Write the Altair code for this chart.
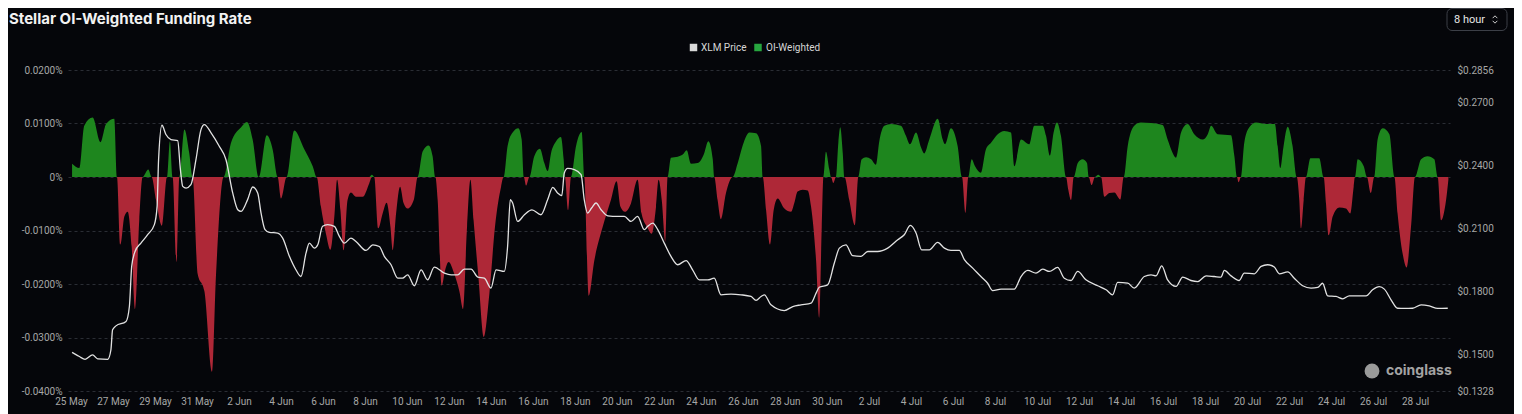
import altair as alt
import pandas as pd

# ---------------- text ----------------
title_text = "Stellar OI-Weighted Funding Rate"
button_text = "8 hour"
watermark_text = "coinglass"
series_names = ["XLM Price", "OI-Weighted"]
start_date = "2024-05-25"

# ---------------- funding rate (OI-weighted, %), day offsets from 25 May ----------------
fr_day = [0.05, 0.40, 0.63, 1.03, 1.40, 1.67, 2.06, 2.19, 2.35, 2.54, 2.70, 2.89, 3.05, 3.25, 3.41,
          3.68, 3.84, 4.05, 4.33, 4.57, 4.71, 4.84, 5.03, 5.16, 5.40, 5.63, 5.79, 6.03, 6.35, 6.71,
          6.90, 7.27, 7.62, 8.10, 8.38, 8.65, 8.94, 9.32, 9.60, 9.84, 10.00, 10.27, 10.63, 11.11,
          11.51, 11.70, 11.90, 12.14, 12.35, 12.54, 12.67, 12.83, 12.98, 13.17, 13.33, 13.57, 13.89,
          14.21, 14.33, 14.44, 14.63, 14.84, 15.03, 15.21, 15.32, 15.48, 15.67, 15.84, 16.03, 16.32,
          16.51, 16.75, 17.03, 17.22, 17.35, 17.46, 17.65, 17.81, 17.98, 18.25, 18.49, 18.67, 18.86,
          19.02, 19.17, 19.40, 19.65, 19.92, 20.19, 20.48, 20.60, 20.79, 21.03, 21.30, 21.46, 21.56,
          21.67, 21.83, 22.06, 22.33, 22.54, 22.70, 22.86, 23.10, 23.33, 23.46, 23.52, 23.67, 23.81,
          24.05, 24.32, 24.44, 24.65, 24.92, 25.32, 25.71, 25.98, 26.16, 26.38, 26.67, 26.98, 27.17,
          27.43, 27.65, 27.86, 27.98, 28.13, 28.30, 28.41, 28.57, 28.89, 29.13, 29.32, 29.52, 29.84,
          30.13, 30.35, 30.56, 30.63, 30.79, 30.95, 31.19, 31.51, 31.75, 32.03, 32.30, 32.62, 32.86,
          32.94, 33.10, 33.29, 33.46, 33.65, 33.97, 34.29, 34.44, 34.60, 34.84, 35.08, 35.24, 35.48,
          35.63, 35.75, 35.83, 35.95, 36.11, 36.19, 36.30, 36.43, 36.54, 36.63, 36.75, 36.83, 37.06,
          37.33, 37.49, 37.65, 37.86, 38.10, 38.33, 38.49, 38.73, 39.05, 39.52, 39.76, 39.95, 40.24,
          40.48, 40.63, 40.87, 41.27, 41.51, 41.62, 41.90, 42.22, 42.43, 42.59, 42.73, 42.89, 43.05,
          43.33, 43.57, 43.81, 44.13, 44.44, 44.76, 44.92, 45.24, 45.63, 45.87, 46.27, 46.43, 46.62,
          46.79, 46.95, 47.14, 47.38, 47.49, 47.62, 47.75, 47.94, 48.17, 48.38, 48.46, 48.60, 48.76,
          48.92, 49.05, 49.21, 49.44, 49.68, 49.97, 50.13, 50.32, 50.63, 50.95, 51.43, 51.98, 52.22,
          52.46, 52.62, 52.86, 53.17, 53.49, 53.89, 54.13, 54.29, 54.60, 55.24, 55.40, 55.52, 55.60,
          55.71, 55.87, 56.11, 56.43, 56.90, 57.33, 57.46, 57.59, 57.70, 57.94, 58.17, 58.37, 58.49,
          58.57, 58.70, 58.81, 59.02, 59.44, 59.65, 59.76, 59.89, 60.08, 60.40, 60.71, 60.92, 61.08,
          61.14, 61.27, 61.56, 61.71, 61.90, 62.06, 62.22, 62.46, 62.78, 63.02, 63.17, 63.41, 63.60,
          63.81, 64.00, 64.29, 64.60, 64.92, 65.08, 65.24, 65.48, 65.59]
fr_val = [0.0025, 0.0017, 0.0096, 0.0111, 0.0065, 0.0099, 0.0109, 0.0, -0.0126, -0.0074, -0.0065,
          -0.0131, -0.0247, -0.0081, 0.0, 0.0014, 0.0, -0.0043, -0.0091, 0.0, 0.0067, 0.0, -0.0159,
          0.0, 0.0089, 0.0045, 0.0, -0.0181, -0.0213, -0.0364, -0.0187, 0.0, 0.0064, 0.0093, 0.0103,
          0.0070, 0.0, 0.0078, 0.0052, 0.0, -0.0040, 0.0, 0.0087, 0.0052, 0.0020, 0.0, -0.0055,
          -0.0106, -0.0136, -0.0074, -0.0005, -0.0062, -0.0137, -0.0043, -0.0029, -0.0037, -0.0037,
          -0.0011, 0.0004, 0.0, -0.0096, -0.0068, -0.0048, -0.0093, -0.0137, -0.0068, -0.0018,
          -0.0049, -0.0059, -0.0043, 0.0, 0.0048, 0.0059, 0.0039, 0.0, -0.0043, -0.0203, -0.0175,
          -0.0159, -0.0181, -0.0213, -0.0247, -0.0093, -0.0005, -0.0081, -0.0187, -0.0299, -0.0219,
          -0.0093, -0.0018, 0.0, 0.0058, 0.0083, 0.0091, 0.0070, 0.0, -0.0016, 0.0, 0.0039, 0.0053,
          0.0026, 0.0011, 0.0045, 0.0067, 0.0075, 0.0033, 0.0, -0.0062, 0.0, 0.0058, 0.0084, 0.0,
          -0.0222, -0.0156, -0.0093, -0.0043, -0.0008, -0.0055, -0.0065, -0.0049, -0.0005, -0.0068,
          -0.0093, -0.0106, -0.0055, -0.0005, -0.0043, -0.0121, 0.0, 0.0036, 0.0038, 0.0042, 0.0050,
          0.0025, 0.0026, 0.0042, 0.0067, 0.0033, 0.0, -0.0043, -0.0079, -0.0030, 0.0, 0.0026,
          0.0064, 0.0083, 0.0082, 0.0058, 0.0, -0.0062, -0.0126, -0.0062, -0.0040, -0.0059, -0.0065,
          -0.0049, -0.0027, -0.0024, -0.0025, -0.0055, -0.0156, -0.0263, -0.0093, 0.0, 0.0047,
          0.0014, 0.0, -0.0011, 0.0, 0.0064, 0.0093, 0.0045, 0.0, -0.0043, -0.0090, 0.0, 0.0033,
          0.0037, 0.0033, 0.0023, 0.0067, 0.0096, 0.0099, 0.0096, 0.0077, 0.0061, 0.0083, 0.0055,
          0.0044, 0.0070, 0.0109, 0.0070, 0.0061, 0.0091, 0.0058, 0.0, -0.0067, 0.0, 0.0033, 0.0020,
          0.0008, 0.0052, 0.0064, 0.0080, 0.0086, 0.0083, 0.0020, 0.0070, 0.0061, 0.0096, 0.0096,
          0.0077, 0.0040, 0.0083, 0.0102, 0.0077, 0.0, -0.0024, -0.0043, 0.0, 0.0026, 0.0033, 0.0026,
          0.0, -0.0015, 0.0, 0.0004, 0.0, -0.0037, -0.0030, -0.0029, -0.0042, 0.0, 0.0058, 0.0096,
          0.0102, 0.0101, 0.0097, 0.0070, 0.0045, 0.0036, 0.0083, 0.0099, 0.0080, 0.0070, 0.0080,
          0.0096, 0.0080, 0.0078, 0.0039, 0.0, -0.0010, 0.0, 0.0064, 0.0093, 0.0102, 0.0099, 0.0099,
          0.0058, 0.0017, 0.0045, 0.0094, 0.0058, 0.0, -0.0043, -0.0096, -0.0043, 0.0, 0.0035,
          0.0035, 0.0, -0.0049, -0.0109, -0.0074, -0.0057, -0.0059, -0.0068, -0.0018, 0.0, 0.0033,
          0.0020, 0.0, -0.0030, 0.0, 0.0070, 0.0091, 0.0080, 0.0, -0.0068, -0.0143, -0.0169,
          -0.0093, 0.0, 0.0033, 0.0039, 0.0033, 0.0, -0.0081, -0.0043, -0.0005]

# ---------------- XLM price (USD), day offsets from 25 May ----------------
px_day = [0.05, 0.40, 0.67, 1.03, 1.27, 1.75, 1.90, 1.98, 2.14, 2.62, 2.78, 2.89, 3.05, 3.33, 3.65,
          3.97, 4.10, 4.17, 4.33, 4.52, 4.76, 5.08, 5.21, 5.32, 5.48, 5.71, 5.95, 6.19, 6.35, 6.67,
          7.06, 7.38, 7.70, 7.94, 8.10, 8.41, 8.65, 8.89, 9.05, 9.24, 9.44, 9.84, 10.08, 10.40,
          10.71, 10.95, 11.19, 11.35, 11.59, 11.75, 11.98, 12.22, 12.54, 12.78, 13.02, 13.33, 13.57,
          14.05, 14.37, 14.68, 14.92, 15.24, 15.56, 15.79, 16.03, 16.35, 16.67, 16.98, 17.30, 17.78,
          18.10, 18.41, 18.73, 19.05, 19.37, 19.68, 20.00, 20.24, 20.63, 20.79, 20.92, 21.03, 21.27,
          21.59, 21.95, 22.38, 22.70, 22.94, 23.17, 23.37, 23.49, 23.65, 23.97, 24.29, 24.44, 24.60,
          24.79, 25.00, 25.24, 25.56, 26.03, 26.35, 26.67, 26.98, 27.30, 27.46, 27.70, 27.94, 28.25,
          28.57, 28.89, 29.29, 29.60, 29.92, 30.32, 30.63, 30.95, 31.43, 31.90, 32.38, 32.62, 32.86,
          33.02, 33.33, 33.97, 34.37, 34.76, 35.24, 35.48, 35.63, 36.03, 36.35, 36.59, 36.90, 37.22,
          37.62, 37.94, 38.41, 38.89, 39.37, 39.68, 39.97, 40.24, 40.51, 40.87, 41.27, 41.59, 41.90,
          42.30, 42.54, 42.94, 43.33, 43.65, 43.89, 44.29, 44.92, 45.24, 45.56, 45.95, 46.27, 46.59,
          46.98, 47.30, 47.62, 47.94, 48.33, 48.89, 49.29, 49.60, 49.84, 50.32, 50.63, 51.11, 51.43,
          51.67, 51.94, 52.22, 52.62, 52.94, 53.33, 53.65, 54.05, 54.44, 54.76, 54.92, 55.24, 55.63,
          55.87, 56.35, 56.67, 56.98, 57.30, 57.54, 57.94, 58.25, 58.65, 59.05, 59.37, 59.60, 59.84,
          60.24, 60.56, 60.87, 61.27, 61.67, 61.98, 62.30, 62.54, 62.86, 63.17, 63.49, 63.89, 64.29,
          64.68, 65.08, 65.56]
px_val = [0.1512, 0.1492, 0.1479, 0.1500, 0.1481, 0.1479, 0.1524, 0.1619, 0.1638, 0.1659, 0.1730,
          0.1921, 0.1992, 0.2032, 0.2072, 0.2120, 0.2207, 0.2429, 0.2593, 0.2549, 0.2525, 0.2520,
          0.2382, 0.2302, 0.2294, 0.2310, 0.2429, 0.2572, 0.2596, 0.2557, 0.2493, 0.2429, 0.2271,
          0.2191, 0.2183, 0.2239, 0.2299, 0.2271, 0.2175, 0.2096, 0.2083, 0.2080, 0.2056, 0.1969,
          0.1905, 0.1873, 0.1984, 0.2032, 0.2008, 0.2024, 0.2112, 0.2120, 0.2112, 0.2064, 0.2032,
          0.2056, 0.2040, 0.1997, 0.2024, 0.2016, 0.1969, 0.1929, 0.1865, 0.1865, 0.1881, 0.1829,
          0.1905, 0.1857, 0.1918, 0.1889, 0.1881, 0.1881, 0.1908, 0.1908, 0.1870, 0.1865, 0.1818,
          0.1905, 0.1897, 0.2016, 0.2239, 0.2223, 0.2135, 0.2167, 0.2190, 0.2167, 0.2239, 0.2297,
          0.2271, 0.2258, 0.2366, 0.2388, 0.2382, 0.2358, 0.2239, 0.2175, 0.2199, 0.2223, 0.2191,
          0.2162, 0.2159, 0.2159, 0.2135, 0.2159, 0.2096, 0.2112, 0.2127, 0.2096, 0.2032, 0.1969,
          0.1929, 0.1949, 0.1905, 0.1857, 0.1857, 0.1865, 0.1786, 0.1789, 0.1786, 0.1778, 0.1759,
          0.1778, 0.1786, 0.1738, 0.1711, 0.1730, 0.1738, 0.1746, 0.1794, 0.1822, 0.1833, 0.1937,
          0.2008, 0.2024, 0.1972, 0.1969, 0.1992, 0.1992, 0.2008, 0.2048, 0.2072, 0.2116, 0.2080,
          0.2000, 0.2000, 0.2035, 0.2008, 0.1997, 0.1997, 0.1953, 0.1913, 0.1873, 0.1841, 0.1806,
          0.1813, 0.1813, 0.1873, 0.1902, 0.1889, 0.1908, 0.1897, 0.1916, 0.1865, 0.1854, 0.1897,
          0.1857, 0.1829, 0.1810, 0.1786, 0.1845, 0.1841, 0.1818, 0.1873, 0.1881, 0.1876, 0.1924,
          0.1857, 0.1826, 0.1870, 0.1854, 0.1849, 0.1876, 0.1873, 0.1870, 0.1902, 0.1876, 0.1854,
          0.1889, 0.1886, 0.1921, 0.1929, 0.1918, 0.1886, 0.1895, 0.1865, 0.1829, 0.1818, 0.1821,
          0.1841, 0.1781, 0.1778, 0.1767, 0.1781, 0.1781, 0.1781, 0.1810, 0.1825, 0.1813, 0.1762,
          0.1722, 0.1721, 0.1722, 0.1738, 0.1733, 0.1721, 0.1722]

left_ticks = [-0.04, -0.03, -0.02, -0.01, 0.0, 0.01, 0.02]
right_ticks = [0.1328, 0.15, 0.18, 0.21, 0.24, 0.27, 0.2856]

# ---------------- style ----------------
BG = "#05060a"
GREEN = "#1e861e"
RED = "#ae2837"
PRICE = "#e2e2e2"
LEG_GREEN = "#27a63f"
LEG_GRAY = "#d9d9d9"
GRID = "#2a2d34"
LABEL = "#a6a6a6"
FONT = "Roboto"

base = pd.Timestamp(start_date)


def to_iso(days):
    return [(base + pd.to_timedelta(d, unit="D")).strftime("%Y-%m-%dT%H:%M:%S") for d in days]


def to_dt(ts):
    return alt.DateTime(year=ts.year, month=ts.month, date=ts.day,
                        hours=ts.hour, minutes=ts.minute)


fr_df = pd.DataFrame({"t": to_iso(fr_day), "v": fr_val})
fr_df["pos"] = fr_df["v"].clip(lower=0)
fr_df["neg"] = fr_df["v"].clip(upper=0)
px_df = pd.DataFrame({"t": to_iso(px_day), "p": px_val})

x_ticks = [to_dt(ts) for ts in pd.date_range(start_date, periods=33, freq="2D")]
dom_start = to_dt(base - pd.Timedelta(hours=3, minutes=26))
dom_end = to_dt(base + pd.Timedelta(days=65, hours=16))

x_enc = alt.X(
    "t:T",
    scale=alt.Scale(domain=[dom_start, dom_end]),
    axis=alt.Axis(values=x_ticks, format="%-d %b", title=None, grid=False, domain=False,
                  ticks=False, labelPadding=5, labelColor=LABEL, labelFontSize=10,
                  labelFont=FONT, labelOverlap=False, labelFlush=False),
)

fr_scale = alt.Scale(domain=[-0.04, 0.02], nice=False, zero=True)
fr_axis = alt.Axis(
    values=left_ticks, title=None, domain=False, ticks=False, labelPadding=6,
    labelExpr="datum.value == 0 ? '0%' : replace(format(datum.value, '.4f'), '\u2212', '-') + '%'",
    grid=True, gridDash=[3, 3], gridColor=GRID, gridWidth=1,
    labelColor=LABEL, labelFontSize=10, labelFont=FONT,
)

pos_area = alt.Chart(fr_df).mark_area(interpolate="monotone", opacity=1, color=GREEN).encode(
    x=x_enc,
    y=alt.Y("pos:Q", scale=fr_scale, axis=fr_axis),
)
neg_area = alt.Chart(fr_df).mark_area(interpolate="monotone", opacity=1, color=RED).encode(
    x=x_enc,
    y=alt.Y("neg:Q", scale=fr_scale, axis=fr_axis),
)
price_line = alt.Chart(px_df).mark_line(interpolate="monotone", strokeWidth=1.3, color=PRICE).encode(
    x=x_enc,
    y=alt.Y("p:Q", scale=alt.Scale(domain=[0.1328, 0.2856], nice=False, zero=False),
            axis=alt.Axis(orient="right", values=right_ticks, title=None, grid=False,
                          domain=False, ticks=False, labelPadding=7,
                          labelExpr="'$' + format(datum.value, '.4f')",
                          labelColor=LABEL, labelFontSize=10, labelFont=FONT)),
)

# ---------------- legend (drawn by hand) ----------------
leg_df = pd.DataFrame({"name": series_names})
legend_layers = []
for name, sym_x, txt_x, col in [(series_names[0], 625.5, 633, LEG_GRAY),
                                (series_names[1], 690, 698, LEG_GREEN)]:
    sub = leg_df[leg_df["name"] == name]
    legend_layers.append(alt.Chart(sub).mark_square(size=56, filled=True, color=col, opacity=1)
                         .encode(x=alt.value(sym_x), y=alt.value(-22.5)))
    legend_layers.append(alt.Chart(sub).mark_text(align="left", baseline="middle", font=FONT,
                                                  fontSize=10, color="#d6d6d6")
                         .encode(x=alt.value(txt_x), y=alt.value(-22.5), text="name:N"))

title_df = pd.DataFrame({"text": [title_text]})
title_layer = alt.Chart(title_df).mark_text(
    align="left", baseline="top", font="Inter", fontSize=15, fontWeight="bold", color="#f2f2f2"
).encode(x=alt.value(-59), y=alt.value(-58), text="text:N")

btn_df = pd.DataFrame({"text": [button_text]})
btn_box = alt.Chart(btn_df).mark_rect(
    cornerRadius=5, fill=BG, stroke="#3c3f47", strokeWidth=1
).encode(x=alt.value(1379), x2=alt.value(1439), y=alt.value(-61.5), y2=alt.value(-39.5))
btn_text = alt.Chart(btn_df).mark_text(
    align="left", baseline="middle", font=FONT, fontSize=11, color="#e6e6e6"
).encode(x=alt.value(1386), y=alt.value(-50.5), text="text:N")
chev_up = alt.Chart(btn_df).mark_point(
    shape="M-1,0.5L0,-0.5L1,0.5", filled=False, size=22, color="#cfcfcf", strokeWidth=1, opacity=1
).encode(x=alt.value(1427), y=alt.value(-53))
chev_down = alt.Chart(btn_df).mark_point(
    shape="M-1,-0.5L0,0.5L1,-0.5", filled=False, size=22, color="#cfcfcf", strokeWidth=1, opacity=1
).encode(x=alt.value(1427), y=alt.value(-48))

wm_df = pd.DataFrame({"text": [watermark_text]})
wm_icon = alt.Chart(wm_df).mark_point(
    shape="circle", filled=True, size=220, color="#9a9a9a", opacity=1
).encode(x=alt.value(1304), y=alt.value(301))
wm_text = alt.Chart(wm_df).mark_text(
    align="left", baseline="middle", font="Inter", fontSize=14, fontWeight="bold", color="#a3a3a3"
).encode(x=alt.value(1318), y=alt.value(301), text="text:N")

chart = alt.layer(
    alt.layer(pos_area, neg_area),
    price_line,
    title_layer, btn_box, btn_text, chev_up, chev_down, wm_icon, wm_text,
    *legend_layers,
).resolve_scale(y="independent").properties(
    width=1382, height=321,
    autosize=alt.AutoSizeParams(type="none"),
    padding={"left": 60, "top": 62, "right": 64, "bottom": 23},
).configure(background=BG).configure_view(stroke=None)

chart.save("out.html", embed_options={"renderer": "svg", "actions": False})
